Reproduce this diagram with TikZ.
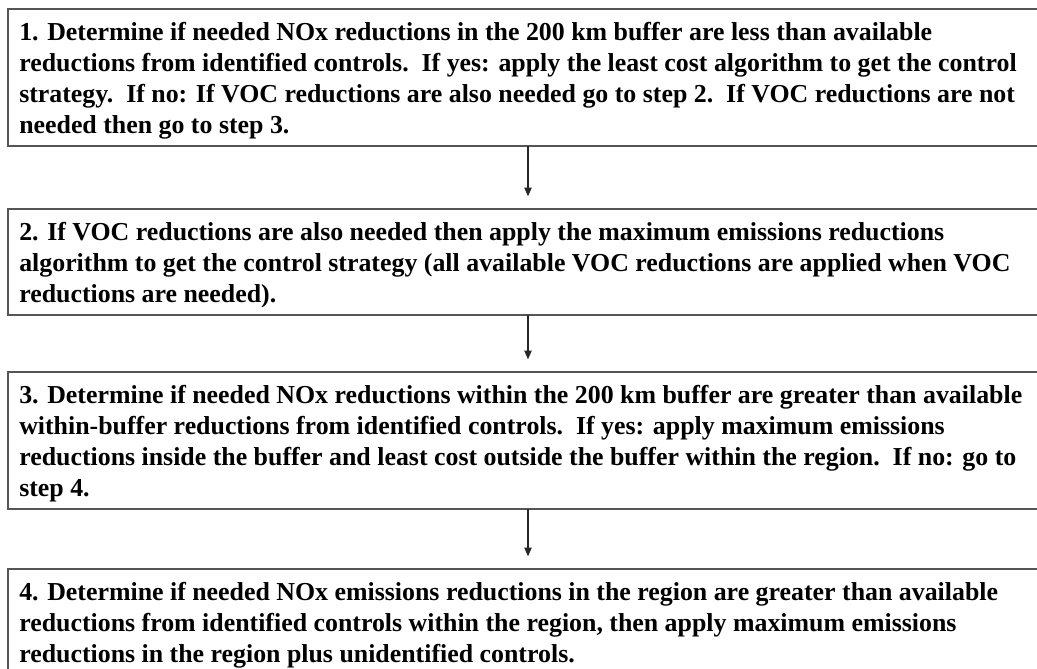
\documentclass[tikz,border=0pt]{standalone}
\usepackage{fontspec}
\setmainfont{Liberation Serif}
\usetikzlibrary{arrows.meta}
\definecolor{boxgray}{RGB}{85,85,85}
\definecolor{arrowgray}{RGB}{40,40,40}
\newcommand\boxlines[1]{\begin{tabular}[t]{@{}l@{}}#1\end{tabular}}
\newcommand\dsp{\ \ }
\begin{document}
\begin{tikzpicture}[x=0.75pt,y=-0.75pt,
  stepbox/.style={draw=boxgray, line width=1.3pt, rectangle, inner sep=0pt, outer sep=0pt,
    minimum width=785pt, anchor=north west},
  steptext/.style={anchor=base west, inner sep=0pt, font=\bfseries\fontsize{19.4}{23.25}\selectfont},
  conn/.style={draw=arrowgray, line width=0.8pt, -{Triangle[width=5.5pt,length=6.5pt]}, shorten >=9.5pt}]
\useasboundingbox (0,0) rectangle (1037,668);
\clip (0,0) rectangle (1037,668);
\node[stepbox, minimum height=102.75pt] (b1) at (8,9) {};
\node[stepbox, minimum height=79.5pt] (b2) at (8,209) {};
\node[stepbox, minimum height=102.75pt] (b3) at (8,372) {};
\node[stepbox, minimum height=79.5pt] (b4) at (8,569) {};
\coordinate (ax) at (528,0);
\node[steptext] (t1) at (19,40) {\boxlines{%
1. Determine if needed NOx reductions in the 200 km buffer are less than available\\
reductions from identified controls.\dsp If yes: apply the least cost algorithm to get the control\\
strategy.\dsp If no: If VOC reductions are also needed go to step 2.\dsp If VOC reductions are not\\
needed then go to step 3.}};
\node[steptext] (t2) at (19,240) {\boxlines{%
2. If VOC reductions are also needed then apply the maximum emissions reductions\\
algorithm to get the control strategy (all available VOC reductions are applied when VOC\\
reductions are needed).}};
\node[steptext] (t3) at (19,403) {\boxlines{%
3. Determine if needed NOx reductions within the 200 km buffer are greater than available\\
within-buffer reductions from identified controls.\dsp If yes: apply maximum emissions\\
reductions inside the buffer and least cost outside the buffer within the region.\dsp If no: go to\\
step 4.}};
\node[steptext] (t4) at (19,600) {\boxlines{%
4. Determine if needed NOx emissions reductions in the region are greater than available\\
reductions from identified controls within the region, then apply maximum emissions\\
reductions in the region plus unidentified controls.}};
\draw[conn] (b1.south -| ax) -- (b2.north -| ax);
\draw[conn] (b2.south -| ax) -- (b3.north -| ax);
\draw[conn] (b3.south -| ax) -- (b4.north -| ax);
\end{tikzpicture}
\end{document}
